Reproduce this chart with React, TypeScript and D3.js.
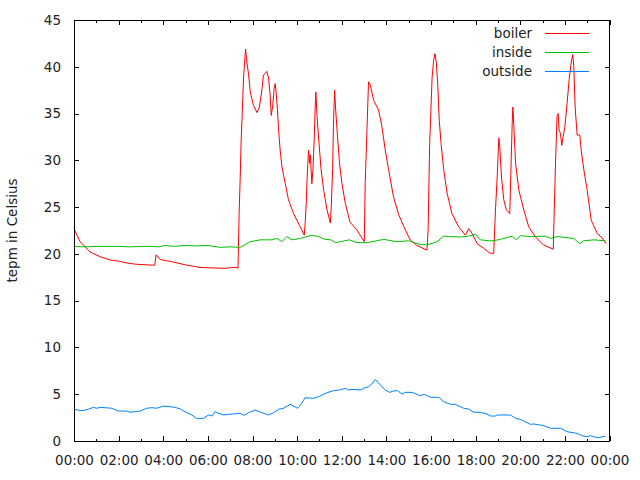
import React, { useEffect, useRef } from "react";
import * as d3 from "d3";

// hours since midnight, temperature in celsius
const boilerHours = [
  0, 0.27, 0.49, 0.72, 1.17, 1.62, 2.06, 2.29, 2.74, 3.48, 3.62, 3.68, 3.86, 4.31, 5.05, 5.65, 6.77, 7.07, 7.3, 7.35,
  7.4, 7.45, 7.49, 7.54, 7.6, 7.66, 7.69, 7.75, 7.82, 7.9, 8.04, 8.2, 8.31, 8.42, 8.49, 8.64, 8.72, 8.79, 8.84, 8.91,
  8.97, 9.02, 9.06, 9.12, 9.17, 9.24, 9.32, 9.47, 9.61, 9.84, 10.14, 10.32, 10.36, 10.41, 10.44, 10.51, 10.56, 10.59,
  10.66, 10.71, 10.77, 10.81, 10.84, 10.89, 10.96, 11.07, 11.19, 11.34, 11.49, 11.53, 11.59, 11.63, 11.68, 11.72,
  11.79, 11.9, 12.01, 12.16, 12.37, 12.68, 13.01, 13.05, 13.13, 13.2, 13.28, 13.43, 13.65, 13.8, 13.95, 14.1, 14.32,
  14.55, 14.85, 15.07, 15.37, 15.82, 15.87, 15.94, 16.05, 16.12, 16.18, 16.24, 16.3, 16.37, 16.45, 16.57, 16.72,
  16.94, 17.24, 17.54, 17.69, 17.84, 18.07, 18.36, 18.63, 18.81, 18.89, 18.96, 19.04, 19.08, 19.16, 19.26, 19.38,
  19.53, 19.59, 19.64, 19.67, 19.71, 19.79, 19.94, 20.16, 20.38, 20.68, 21.05, 21.48, 21.5, 21.58, 21.65, 21.7,
  21.74, 21.8, 21.86, 21.92, 22.0, 22.1, 22.19, 22.28, 22.35, 22.4, 22.46, 22.55, 22.67, 22.73, 22.85, 23.0, 23.18,
  23.45, 23.67, 23.85,
];
const boilerTemps = [
  22.7, 21.3, 20.8, 20.2, 19.7, 19.35, 19.2, 19.06, 18.9, 18.8, 18.8, 19.9, 19.4, 19.2, 18.8, 18.55, 18.45, 18.55,
  18.55, 18.45, 24.3, 28.2, 32, 35, 38.9, 40.9, 41.9, 40.4, 39.3, 37.3, 35.9, 35.1, 35.7, 37.5, 39.1, 39.5, 38.8, 37,
  34.8, 35.9, 37.7, 38.2, 37.2, 35.4, 33.2, 31.1, 29.3, 27.5, 25.8, 24.3, 22.9, 22.0, 23.3, 25.4, 27.7, 31.1, 29.7,
  30.6, 27.5, 29, 32.5, 35.7, 37.3, 34.8, 32.5, 29.1, 26.8, 24.7, 23.3, 25, 29, 34, 37.5, 35.7, 33.2, 29.7, 27.5,
  25.4, 23.4, 22.55, 21.3, 27.5, 33.2, 38.4, 38.05, 36.4, 35.4, 33.6, 31.1, 29, 26.1, 24.2, 22.55, 21.5, 20.9, 20.4,
  22.55, 31.8, 38.9, 40.7, 41.4, 40.4, 38.2, 34.3, 31.8, 29, 26.5, 24.3, 22.9, 22.0, 22.7, 22.2, 21.1, 20.6, 20.1,
  20.05, 24.7, 27.9, 32.4, 31.5, 28.2, 25.8, 24.7, 24.3, 29.7, 34, 35.7, 33.8, 29.7, 26.8, 24.7, 22.9, 21.8, 20.95,
  20.5, 22.55, 29.7, 34.7, 35, 33.2, 32.9, 31.6, 32.5, 33.6, 36.1, 38.6, 40.4, 41.3, 40, 35.7, 32.7, 32.7, 31.1, 29,
  26.8, 23.6, 22.2, 21.7, 21.1,
];

const insideHours = [
  0, 0.5, 1.0, 1.5, 2.0, 2.5, 3.0, 3.5, 3.8, 4.1, 4.5, 5.0, 5.5, 6.0, 6.55, 7.0, 7.45, 7.9, 8.34, 8.87, 9.1, 9.32,
  9.54, 9.77, 10.14, 10.66, 10.96, 11.26, 11.52, 11.71, 11.93, 12.35, 12.68, 13.13, 13.88, 14.48, 15.0, 15.45, 15.82,
  16.27, 16.57, 16.87, 17.32, 17.69, 17.99, 18.21, 18.63, 18.81, 19.26, 19.64, 19.83, 20.01, 20.46, 21.13, 21.36,
  21.65, 22.4, 22.67, 22.85, 23.3, 23.82,
];
const insideTemps = [
  20.8, 20.75, 20.8, 20.8, 20.8, 20.75, 20.8, 20.8, 20.75, 20.9, 20.8, 20.9, 20.85, 20.9, 20.7, 20.75, 20.7, 21.3,
  21.5, 21.5, 21.65, 21.3, 21.85, 21.5, 21.65, 22.0, 21.85, 21.55, 21.5, 21.2, 21.3, 21.5, 21.2, 21.2, 21.55, 21.3,
  21.4, 21.05, 20.95, 21.3, 21.9, 21.85, 21.8, 21.9, 22.1, 21.5, 21.4, 21.4, 21.65, 21.9, 21.5, 21.95, 21.85, 21.9,
  21.65, 21.85, 21.65, 21.1, 21.4, 21.5, 21.4,
];

const outsideHours = [
  0, 0.34, 0.64, 0.87, 1.02, 1.17, 1.69, 1.99, 2.36, 2.51, 2.96, 3.26, 3.49, 3.71, 4.01, 4.53, 4.76, 5.06, 5.28, 5.5,
  5.8, 6.03, 6.18, 6.33, 6.48, 6.7, 6.93, 7.45, 7.63, 7.82, 8.12, 8.34, 8.72, 8.94, 9.17, 9.39, 9.69, 9.84, 10.02,
  10.18, 10.36, 10.74, 10.96, 11.34, 11.63, 11.9, 12.16, 12.31, 12.46, 12.83, 12.98, 13.2, 13.35, 13.5, 13.73, 13.95,
  14.15, 14.32, 14.5, 14.7, 14.85, 15.15, 15.52, 15.7, 15.97, 16.35, 16.57, 16.87, 17.09, 17.46, 17.69, 17.91, 18.21,
  18.51, 18.66, 18.89, 18.96, 19.56, 19.79, 20.01, 20.46, 20.61, 21.05, 21.36, 21.8, 22.1, 22.55, 22.77, 23.0, 23.14,
  23.45, 23.59, 23.82,
];
const outsideTemps = [
  3.39, 3.24, 3.39, 3.6, 3.5, 3.6, 3.5, 3.2, 3.2, 3.07, 3.2, 3.5, 3.56, 3.5, 3.74, 3.6, 3.42, 3.02, 2.78, 2.42, 2.42,
  2.78, 2.67, 3.13, 2.96, 2.78, 2.85, 2.96, 2.74, 3.02, 3.31, 3.1, 2.78, 3.02, 3.39, 3.5, 3.92, 3.74, 3.5, 3.95, 4.63,
  4.56, 4.74, 5.16, 5.38, 5.45, 5.63, 5.45, 5.52, 5.45, 5.63, 5.8, 6.09, 6.59, 5.99, 5.45, 5.2, 5.34, 5.38, 5.02, 5.2,
  5.2, 4.84, 4.99, 4.67, 4.67, 4.2, 3.92, 3.92, 3.5, 3.42, 3.07, 3.07, 2.89, 2.67, 2.67, 2.78, 2.78, 2.42, 2.31, 1.78,
  1.82, 1.64, 1.36, 1.36, 0.99, 0.82, 0.57, 0.46, 0.57, 0.35, 0.4, 0.53,
];

const seriesNames = ["boiler", "inside", "outside"];
const seriesColors = ["#ff0000", "#00c000", "#0080ff"];
const xTickHours = [0, 2, 4, 6, 8, 10, 12, 14, 16, 18, 20, 22, 24];
const xTickLabels = ["00:00", "02:00", "04:00", "06:00", "08:00", "10:00", "12:00", "14:00", "16:00", "18:00", "20:00", "22:00", "00:00"];
const yTicks = [0, 5, 10, 15, 20, 25, 30, 35, 40, 45];

const font = "'DejaVu Sans', sans-serif";

const App = () => {
  const svgRef = useRef<SVGSVGElement>(null);

  useEffect(() => {
    const width = 640;
    const height = 480;
    const left = 74;
    const right = 609.5;
    const top = 20;
    const bottom = 441;

    const svg = d3.select(svgRef.current);
    svg.selectAll("*").remove();
    svg.attr("width", width).attr("height", height);

    svg.append("rect").attr("width", width).attr("height", height).attr("fill", "#fff");

    const x = d3.scaleLinear().domain([0, 24]).range([left, right]);
    const y = d3.scaleLinear().domain([0, 45]).range([bottom, top]);

    const series = [
      d3.zip(boilerHours, boilerTemps),
      d3.zip(insideHours, insideTemps),
      d3.zip(outsideHours, outsideTemps),
    ];

    const line = d3
      .line<number[]>()
      .x((d) => x(d[0]))
      .y((d) => y(d[1]));

    // axes, ticks pointing inward like gnuplot
    const styleAxis = (g) => {
      g.select(".domain").remove();
      g.selectAll("line").attr("stroke", "#000").attr("shape-rendering", "crispEdges");
      g.selectAll("text").attr("fill", "#222").attr("font-size", 13.5).attr("font-family", font);
    };

    svg
      .append("g")
      .attr("transform", `translate(${left},0)`)
      .call(d3.axisLeft(y).tickValues(yTicks).tickSize(-5).tickPadding(13))
      .call(styleAxis);

    svg
      .append("g")
      .attr("transform", `translate(${right},0)`)
      .call(d3.axisRight(y).tickValues(yTicks).tickSize(-5).tickFormat(() => ""))
      .call(styleAxis);

    svg
      .append("g")
      .attr("transform", `translate(0,${bottom})`)
      .call(
        d3
          .axisBottom(x)
          .tickValues(xTickHours)
          .tickSize(-5)
          .tickPadding(14)
          .tickFormat((d, i) => xTickLabels[i])
      )
      .call(styleAxis);

    svg
      .append("g")
      .attr("transform", `translate(0,${top})`)
      .call(d3.axisTop(x).tickValues(xTickHours).tickSize(-5).tickFormat(() => ""))
      .call(styleAxis);

    // minor ticks every hour
    const minorHours = d3.range(1, 24, 2);
    svg
      .append("g")
      .attr("transform", `translate(0,${bottom})`)
      .call(d3.axisBottom(x).tickValues(minorHours).tickSize(-2.5).tickFormat(() => ""))
      .call(styleAxis);
    svg
      .append("g")
      .attr("transform", `translate(0,${top})`)
      .call(d3.axisTop(x).tickValues(minorHours).tickSize(-2.5).tickFormat(() => ""))
      .call(styleAxis);

    svg
      .selectAll(".series")
      .data(series)
      .enter()
      .append("path")
      .attr("class", "series")
      .attr("d", (d) => line(d))
      .attr("fill", "none")
      .attr("stroke", (d, i) => seriesColors[i])
      .attr("stroke-width", 1);

    // plot border
    svg
      .append("rect")
      .attr("x", left)
      .attr("y", top)
      .attr("width", right - left)
      .attr("height", bottom - top)
      .attr("fill", "none")
      .attr("stroke", "#000")
      .attr("shape-rendering", "crispEdges");

    // legend
    const legend = svg
      .selectAll(".legend")
      .data(seriesNames)
      .enter()
      .append("g")
      .attr("class", "legend")
      .attr("transform", (d, i) => `translate(0,${33.5 + i * 19})`);

    legend
      .append("text")
      .attr("x", 532)
      .attr("dy", "0.35em")
      .attr("text-anchor", "end")
      .attr("font-size", 13.5)
      .attr("font-family", font)
      .attr("fill", "#222")
      .text((d) => d);

    legend
      .append("line")
      .attr("x1", 545)
      .attr("x2", 589)
      .attr("stroke", (d) => seriesColors[seriesNames.indexOf(d)])
      .attr("shape-rendering", "crispEdges");

    svg
      .append("text")
      .attr("transform", `translate(17,${(top + bottom) / 2}) rotate(-90)`)
      .attr("text-anchor", "middle")
      .attr("font-size", 13.5)
      .attr("font-family", font)
      .attr("fill", "#222")
      .text("tepm in Celsius");
  }, []);

  return <svg ref={svgRef} style={{ position: "absolute", left: 0, top: 0, display: "block" }}></svg>;
};

export default App;
